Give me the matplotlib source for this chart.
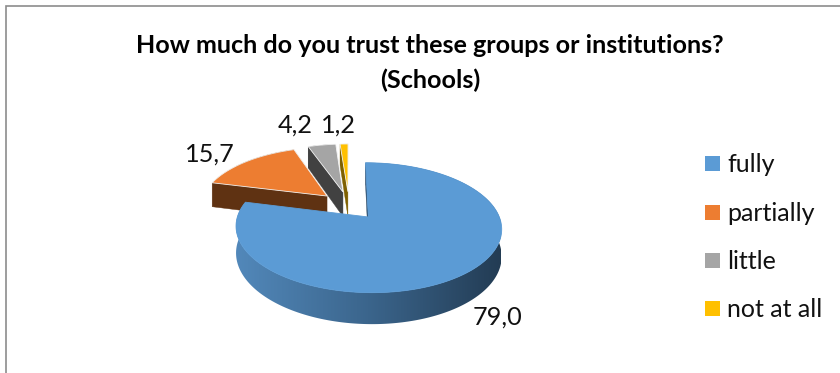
#!/usr/bin/env python3
"""
Trust in schools: exploded 3-D style pie with a perspective ground plane.
Output: out.png
"""

import numpy as np
import matplotlib
matplotlib.use("Agg")
import matplotlib.pyplot as plt
from matplotlib.colors import to_rgb
from matplotlib.patches import Polygon, Rectangle

CATEGORIES = ["fully", "partially", "little", "not at all"]
VALUES     = [79.0, 15.7, 4.2, 1.2]
VALUE_TXT  = ["79,0", "15,7", "4,2", "1,2"]

TITLE = "How much do you trust these groups or institutions?\n(Schools)"

TOP_COLORS = ["#5b9bd5", "#ed7d31", "#a5a5a5", "#ffc000"]
CUT_COLORS = ["#2a4a68", "#5f3212", "#414141", "#7f6000"]
EDGE_COLORS = ["#5b9bd5", "#f0ece8", "#f4f4f4", "#f4f4f4"]

# blue rim runs from a mid blue on the left to near-navy on the right
RIM_STOPS = [
    ["#5288ba", "#3b658c", "#233c54"],
    ["#5f3212", "#5f3212", "#5f3212"],
    ["#414141", "#414141", "#414141"],
    ["#7f6000", "#7f6000", "#7f6000"],
]

W, H    = 840, 373
X0, Y0  = 349.0, 205.4
A, B    = 127.0, 59.4
PERSP   = 0.16
DEPTH   = 25.5
EXPLODE = 0.24
RIM_X   = (236, 501)


def project(x, y, z=0.0):
    s = 1.0 / (1.0 + PERSP * np.asarray(y))
    return np.column_stack([X0 + A * np.asarray(x) * s,
                            Y0 - B * np.asarray(y) * s + z * s])


def draw_rim(ax, idx, top_arc, bot_arc):
    rim = Polygon(np.vstack([top_arc, bot_arc[::-1]]), closed=True, fc="none", ec="none",
                  transform=ax.transData)
    ax.add_patch(rim)
    stops = np.array([to_rgb(c) for c in RIM_STOPS[idx]])
    t = np.linspace(0, 1, 256)
    grad = np.stack([np.interp(t, [0, 0.5, 1], stops[:, c]) for c in range(3)], axis=-1)
    img = ax.imshow(grad[np.newaxis, :, :], extent=(RIM_X[0], RIM_X[1], H, 0),
                    aspect="auto", interpolation="bilinear", zorder=1)
    img.set_clip_path(rim)


def draw_slice(ax, idx, start, sweep):
    mid = start + sweep / 2
    ox, oy = EXPLODE * np.sin(mid), EXPLODE * np.cos(mid)
    th = np.linspace(start, start + sweep, max(int(np.degrees(sweep)), 4) + 1)
    xs = ox + np.sin(th)
    ys = oy + np.cos(th)
    top_arc = project(xs, ys)
    bot_arc = project(xs, ys, DEPTH)
    apex_t = project([ox], [oy])
    apex_b = project([ox], [oy], DEPTH)

    draw_rim(ax, idx, top_arc, bot_arc)

    # only the radius at the slice start faces the viewer
    cut = CUT_COLORS[idx]
    quad = [top_arc[0], apex_t[0], apex_b[0], bot_arc[0]]
    ax.add_patch(Polygon(quad, closed=True, fc=cut, ec=cut, lw=0.3, zorder=1))

    outline = np.vstack([apex_t, top_arc])
    ax.add_patch(Polygon(outline, closed=True, fc=TOP_COLORS[idx], ec=EDGE_COLORS[idx],
                         lw=0.6, zorder=1))


plt.rcParams["font.family"] = ["Lato", "DejaVu Sans"]

fig = plt.figure(figsize=(W / 100, H / 100), dpi=100)
ax = fig.add_axes([0, 0, 1, 1])

# chart frame runs off the right and bottom of the canvas
ax.add_patch(Rectangle((5.5, 5.5), 900, 420, fc="white", ec="#8c8c8c", lw=1.2, zorder=0))

fractions = np.array(VALUES) / np.sum(VALUES)
starts = np.concatenate([[0.0], np.cumsum(fractions)[:-1]]) * 2 * np.pi
sweeps = fractions * 2 * np.pi

# back slices first, the large front slice last
for idx in [3, 2, 1, 0]:
    draw_slice(ax, idx, starts[idx], sweeps[idx])

ax.set_xlim(0, W)
ax.set_ylim(H, 0)
ax.axis("off")

ax.text(430, 63, TITLE, ha="center", va="center", fontsize=18.1, fontweight="bold",
        color="black", linespacing=1.55)

label_xy = [(497, 317), (210, 154), (295, 125), (338, 125)]
for txt, (lx, ly) in zip(VALUE_TXT, label_xy):
    ax.text(lx, ly, txt, ha="center", va="center", fontsize=18.2, color="#111111")

legend_y = [163.5, 212.5, 260.5, 308.5]
for name, col, ly in zip(CATEGORIES, TOP_COLORS, legend_y):
    ax.add_patch(Rectangle((705, ly - 7.5), 15, 15, fc=col, ec="none"))
    ax.text(727, ly + 1, name, ha="left", va="center", fontsize=18.0, color="#111111")

fig.savefig("out.png", dpi=100)
plt.close(fig)
